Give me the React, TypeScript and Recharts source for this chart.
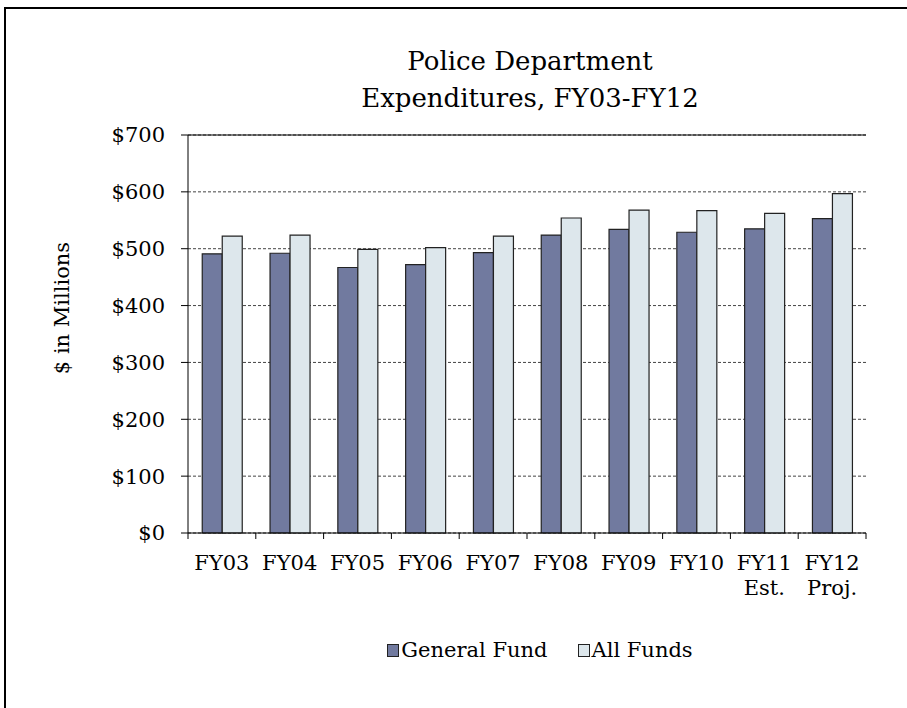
import { BarChart, Bar, XAxis, YAxis, CartesianGrid, ReferenceLine } from "recharts";

// values, $ millions
const YEARS = ["FY03", "FY04", "FY05", "FY06", "FY07", "FY08", "FY09", "FY10", "FY11", "FY12"];
const YEAR_NOTES = ["", "", "", "", "", "", "", "", "Est.", "Proj."];
const GENERAL_FUND = [491, 492, 467, 472, 493, 524, 534, 529, 535, 553];
const ALL_FUNDS = [522, 524, 499, 502, 522, 554, 568, 567, 562, 597];
const Y_TICKS = [0, 100, 200, 300, 400, 500, 600, 700];

const SERIES = [
    { key: "general", name: "General Fund", color: "#717a9f" },
    { key: "all", name: "All Funds", color: "#dde7ec" },
];

const FONT = "'DejaVu Serif', serif";
const WIDTH = 907;
const HEIGHT = 708;
const PLOT_LEFT = 188;
const PLOT_RIGHT = 866;
const PLOT_TOP = 135;
const PLOT_BOTTOM = 533;
const HALF_BAND = (PLOT_RIGHT - PLOT_LEFT) / YEARS.length / 2;

const data = YEARS.map((year, i) => ({
    year,
    note: YEAR_NOTES[i],
    general: GENERAL_FUND[i],
    all: ALL_FUNDS[i],
}));

function YearTick(props: any) {
    const { x, y, payload, index } = props;
    const note = YEAR_NOTES[index];
    const isLast = index === YEARS.length - 1;
    return (
        <g>
            <line x1={x - HALF_BAND} x2={x - HALF_BAND} y1={y} y2={y + 6} stroke="#000" />
            {isLast && <line x1={x + HALF_BAND} x2={x + HALF_BAND} y1={y} y2={y + 6} stroke="#000" />}
            <text x={x} y={y + 37} textAnchor="middle" fontSize={21} fontFamily={FONT} fill="#000">
                {payload.value}
            </text>
            {note && (
                <text x={x} y={y + 62} textAnchor="middle" fontSize={21} fontFamily={FONT} fill="#000">
                    {note}
                </text>
            )}
        </g>
    );
}

export default function App() {
    return (
        <div
            style={{
                position: "fixed",
                left: 0,
                top: 0,
                width: WIDTH,
                height: HEIGHT,
                overflow: "hidden",
                background: "#fff",
                fontFamily: FONT,
            }}
        >
            {/* outer frame, only left and top edges show */}
            <div
                style={{
                    position: "absolute",
                    left: 4,
                    top: 7,
                    width: 1000,
                    height: 1000,
                    borderLeft: "2px solid #000",
                    borderTop: "2px solid #000",
                }}
            />

            {/* title */}
            <div
                style={{
                    position: "absolute",
                    left: 230,
                    top: 43,
                    width: 600,
                    textAlign: "center",
                    fontSize: 26,
                    lineHeight: "37px",
                    color: "#000",
                }}
            >
                Police Department
                <br />
                Expenditures, FY03-FY12
            </div>

            {/* y axis title */}
            <div
                style={{
                    position: "absolute",
                    left: 62 - 100,
                    top: 308 - 13,
                    width: 200,
                    height: 26,
                    lineHeight: "26px",
                    textAlign: "center",
                    fontSize: 21,
                    transform: "rotate(-90deg)",
                }}
            >
                $ in Millions
            </div>

            <div style={{ position: "absolute", left: 0, top: 0 }}>
                <BarChart
                    width={WIDTH}
                    height={HEIGHT}
                    data={data}
                    margin={{
                        top: PLOT_TOP,
                        right: WIDTH - PLOT_RIGHT,
                        left: PLOT_LEFT - 90,
                        bottom: HEIGHT - PLOT_BOTTOM - 70,
                    }}
                    barGap={0}
                    barCategoryGap="21%"
                >
                    <CartesianGrid vertical={false} stroke="#444" strokeDasharray="3 2" />
                    <ReferenceLine y={700} stroke="#000" strokeWidth={1} />
                    <XAxis
                        dataKey="year"
                        height={70}
                        axisLine={{ stroke: "#000" }}
                        tickLine={false}
                        tickSize={0}
                        tickMargin={0}
                        interval={0}
                        tick={<YearTick />}
                    />
                    <YAxis
                        width={90}
                        domain={[0, 700]}
                        ticks={Y_TICKS}
                        interval={0}
                        axisLine={{ stroke: "#000" }}
                        tickLine={{ stroke: "#000" }}
                        tickSize={7}
                        tickMargin={16}
                        tickFormatter={(v: number) => `$${v}`}
                        tick={{ fontSize: 21, fontFamily: FONT, fill: "#000" }}
                    />
                    <YAxis
                        yAxisId="frame"
                        orientation="right"
                        width={0}
                        domain={[0, 700]}
                        tick={false}
                        tickLine={false}
                        axisLine={{ stroke: "#000" }}
                    />
                    {SERIES.map((s) => (
                        <Bar
                            key={s.key}
                            dataKey={s.key}
                            name={s.name}
                            fill={s.color}
                            stroke="#222"
                            strokeWidth={1.2}
                            isAnimationActive={false}
                        />
                    ))}
                </BarChart>
            </div>

            {/* legend */}
            <div
                style={{
                    position: "absolute",
                    left: 0,
                    top: 636,
                    width: 1080,
                    display: "flex",
                    justifyContent: "center",
                    gap: 30,
                    fontSize: 21,
                    lineHeight: "28px",
                }}
            >
                {SERIES.map((s) => (
                    <div key={s.key} style={{ display: "flex", alignItems: "center", gap: 2 }}>
                        <span
                            style={{
                                display: "inline-block",
                                width: 10,
                                height: 11,
                                background: s.color,
                                border: "1px solid #222",
                            }}
                        />
                        <span>{s.name}</span>
                    </div>
                ))}
            </div>
        </div>
    );
}
